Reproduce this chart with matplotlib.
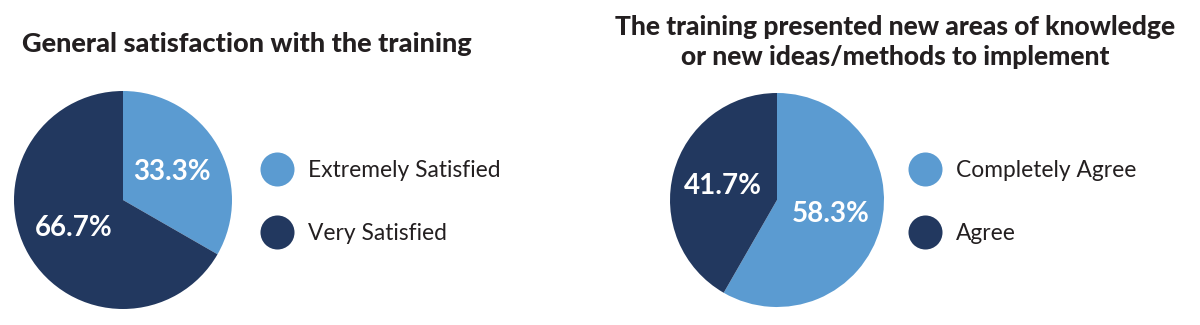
import matplotlib
matplotlib.use("Agg")
import matplotlib.pyplot as plt
from matplotlib.lines import Line2D

plt.rcParams["font.family"] = ["Lato", "DejaVu Sans"]

LIGHT = "#5B9BD1"
DARK = "#22385F"
INK = "#231F20"

satisfaction_labels = ["Extremely Satisfied", "Very Satisfied"]
satisfaction_values = [33.3, 66.7]
satisfaction_title = "General satisfaction with the training"

knowledge_labels = ["Completely Agree", "Agree"]
knowledge_values = [58.3, 41.7]
knowledge_title = "The training presented new areas of knowledge\nor new ideas/methods to implement"

W, H = 1200, 325
fig = plt.figure(figsize=(12, 3.25), dpi=100)


def px_axes(cx, cy, r):
    # axes box in pixels, measured from top-left
    return fig.add_axes([(cx - r) / W, (H - cy - r) / H, 2 * r / W, 2 * r / H])


def draw_pie(ax, values, labels):
    wedges, texts, autotexts = ax.pie(
        values, colors=[LIGHT, DARK], startangle=90, counterclock=False,
        autopct="%.1f%%", pctdistance=0.52,
        wedgeprops=dict(linewidth=0),
        textprops=dict(color="white", fontsize=20, fontweight="bold"))
    ax.set_xlim(-1, 1)
    ax.set_ylim(-1, 1)
    ax.set_aspect("equal")
    return wedges


def draw_legend(labels, x_left, y_mid):
    handles = [Line2D([], [], marker="o", linestyle="none", markersize=24.5,
                      markerfacecolor=c, markeredgewidth=0) for c in [LIGHT, DARK]]
    fig.legend(handles, labels, loc="center left",
               bbox_to_anchor=(x_left / W, (H - y_mid) / H),
               frameon=False, fontsize=16.4, labelspacing=1.85,
               handlelength=1.49, handletextpad=0.61,
               borderpad=0, borderaxespad=0, labelcolor=INK)


ax1 = px_axes(123, 200, 109)
draw_pie(ax1, satisfaction_values, satisfaction_labels)
draw_legend(satisfaction_labels, 260, 202)

ax2 = px_axes(777, 200, 107)
draw_pie(ax2, knowledge_values, knowledge_labels)
draw_legend(knowledge_labels, 908, 202)

fig.text(247 / W, (H - 44) / H, satisfaction_title, ha="center", va="center",
         fontsize=19.5, fontweight="black", color=INK)
fig.text(895 / W, (H - 42) / H, knowledge_title, ha="center", va="center",
         fontsize=19, fontweight="black", color=INK, linespacing=1.3)

fig.savefig("out.png", dpi=100, facecolor="white")
